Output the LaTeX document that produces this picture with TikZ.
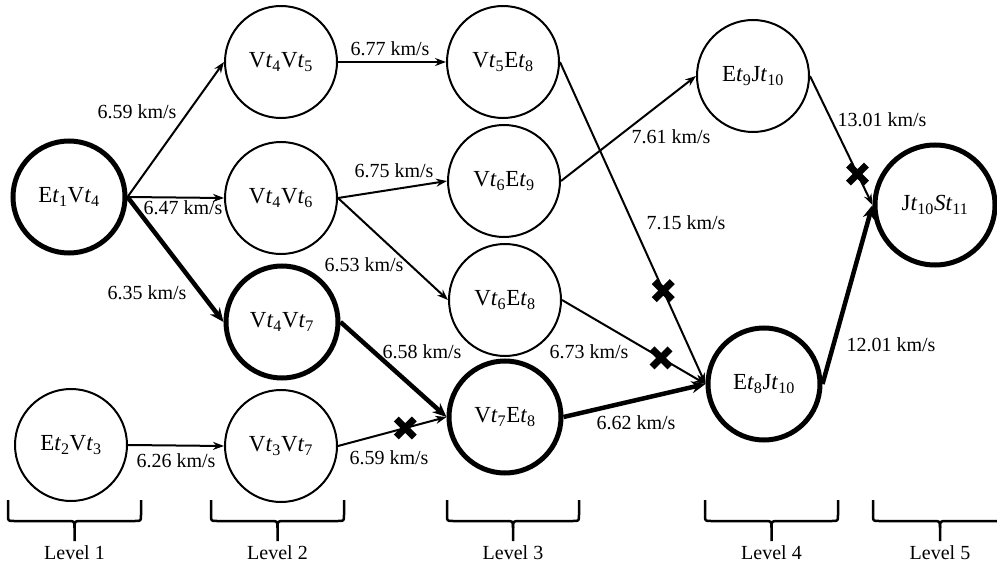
\documentclass[tikz,border=0pt]{standalone}
\usepackage{fontspec}
\setmainfont{LiberationSerif}[
  Extension=.ttf,
  UprightFont=*-Regular,
  BoldFont=*-Bold,
  ItalicFont=*-Italic,
  BoldItalicFont=*-BoldItalic]
\usetikzlibrary{arrows.meta}

% time-indexed symbol: italic t with a subscript
\newcommand\tv[1]{\textit{t}\textsubscript{#1}}

\tikzset{
  state/.style={circle, draw, line width=2pt, minimum size=112pt, inner sep=0pt,
                font=\fontsize{23}{26}\selectfont},
  keystate/.style={state, line width=5pt},
  link/.style={line width=2pt, -{Stealth[length=11pt,width=8pt]}},
  keylink/.style={line width=4.5pt, -{Stealth[length=14pt,width=12pt]}},
  speed/.style={inner sep=0pt, font=\fontsize{20}{24}\selectfont},
  levelname/.style={inner sep=0pt, font=\fontsize{20}{24}\selectfont},
  blocked/.pic={\draw[line width=7pt, arrows=-] (-9,-9) -- (9,9) (-9,9) -- (9,-9);},
  levelbrace/.style={line width=2.5pt, line join=round}
}

\begin{document}
\begin{tikzpicture}[x=1pt, y=-1pt]
\useasboundingbox (0,0) rectangle (997,567);

% level 1
\node[keystate] (A) at (69,197)  {E\tv{1}V\tv{4}};
\node[state]    (B) at (71,445)  {E\tv{2}V\tv{3}};
% level 2
\node[state]    (C) at (281,62)  {V\tv{4}V\tv{5}};
\node[state]    (D) at (281,198) {V\tv{4}V\tv{6}};
\node[keystate] (E) at (282,322) {V\tv{4}V\tv{7}};
\node[state]    (F) at (281,446) {V\tv{3}V\tv{7}};
% level 3
\node[state]    (G) at (503,62)  {V\tv{5}E\tv{8}};
\node[state]    (H) at (504,181) {V\tv{6}E\tv{9}};
\node[state]    (I) at (505,300) {V\tv{6}E\tv{8}};
\node[keystate] (J) at (505,417) {V\tv{7}E\tv{8}};
% level 4
\node[state]    (K) at (753,76)  {E\tv{9}J\tv{10}};
\node[keystate] (L) at (764,384) {E\tv{8}J\tv{10}};
% level 5
\node[keystate, minimum size=120pt] (M) at (935,205) {J\tv{10}\textit{S}\tv{11}};

% transitions
\draw[link]    (A.east) -- (C.west);
\draw[link]    (A.east) -- (D.west);
\draw[keylink] (A.east) -- (E.west);
\draw[link]    (B.east) -- (F.west);
\draw[link]    (C.east) -- (G.west);
\draw[link]    (D.east) -- (H.west);
\draw[link]    (D.east) -- (I.west);
\draw[keylink] (E.east) -- (J.west);
\draw[link]    (F.east) -- (J.west);
\draw[link]    (G.east) -- (L.west);
\draw[link]    (H.east) -- (K.west);
\draw[link]    (I.east) -- (L.west);
\draw[keylink] (J.east) -- (L.west);
\draw[link]    (K.east) -- (M.west);
\draw[keylink] (L.east) -- (M.west);

% blocked transitions
\path (F.east) -- (J.west) pic[pos=0.62] {blocked};
\path (G.east) -- (L.west) pic[pos=0.71] {blocked};
\path (I.east) -- (L.west) pic[pos=0.69] {blocked};
\path (K.east) -- (M.west) pic[pos=0.76] {blocked};

% speeds
\node[speed] (sAC) at (137,112) {6.59 km/s};
\node[speed] (sAD) at (183,208) {6.47 km/s};
\node[speed] (sAE) at (147,293) {6.35 km/s};
\node[speed] (sBF) at (176,461) {6.26 km/s};
\node[speed] (sCG) at (390,49)  {6.77 km/s};
\node[speed] (sDH) at (394,171) {6.75 km/s};
\node[speed] (sDI) at (364,265) {6.53 km/s};
\node[speed] (sEJ) at (422,352) {6.58 km/s};
\node[speed] (sFJ) at (389,458) {6.59 km/s};
\node[speed] (sHK) at (671,137) {7.61 km/s};
\node[speed] (sGL) at (686,223) {7.15 km/s};
\node[speed] (sIL) at (589,352) {6.73 km/s};
\node[speed] (sJL) at (636,423) {6.62 km/s};
\node[speed] (sKM) at (882,120) {13.01 km/s};
\node[speed] (sLM) at (891,345) {12.01 km/s};

% level braces and names
\foreach \xa/\xb/\n in {8/141/1, 211/344/2, 447/579/3, 705/838/4, 873/1007/5}{
  \pgfmathsetmacro\xm{(\xa+\xb)/2}
  \draw[levelbrace] (\xa,500) -- (\xa,515) .. controls (\xa,521) .. (\xa+6,521)
        -- (\xm-7,521) .. controls (\xm,521) .. (\xm,528) -- (\xm,541);
  \draw[levelbrace] (\xb,500) -- (\xb,515) .. controls (\xb,521) .. (\xb-6,521)
        -- (\xm+7,521) .. controls (\xm,521) .. (\xm,528);
  \node[levelname] (lev\n) at (\xm,553) {Level \n};
}
\end{tikzpicture}
\end{document}
